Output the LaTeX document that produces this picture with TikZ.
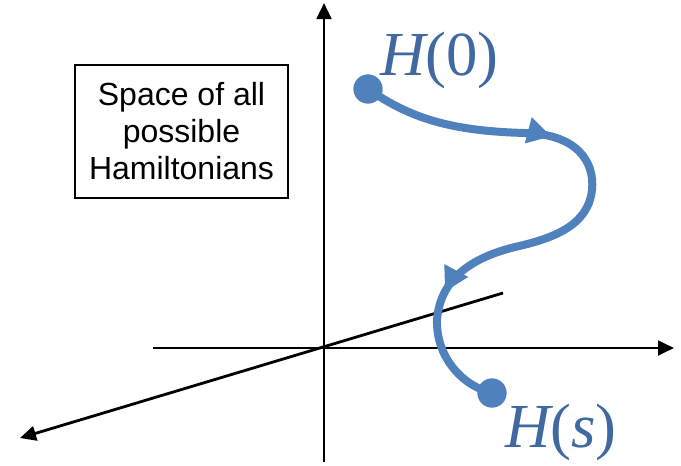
\documentclass[tikz,border=0pt]{standalone}
\usepackage{fontspec}
\setmainfont{Liberation Sans}
\newfontfamily\serifH{Liberation Serif}
\usetikzlibrary{arrows.meta,decorations.markings}
\definecolor{pathblue}{HTML}{4F81BD}
\definecolor{labelblue}{HTML}{3F69A0}
\begin{document}
\begin{tikzpicture}[x=0.75pt,y=-0.75pt,
  axisline/.style={line width=2.1pt,-{Triangle[length=12pt,width=11pt]}},
  plainline/.style={line width=2.1pt},
  infobox/.style={draw,line width=1.5pt,minimum width=160pt,minimum height=100pt,inner sep=0pt,align=center,font=\fontsize{24}{27.75}\selectfont},
  enddot/.style={circle,fill=pathblue,minimum size=22pt,inner sep=0pt},
  hlabel/.style={anchor=base west,inner sep=0pt,text=labelblue,font=\serifH\fontsize{47}{50}\selectfont},
  evo/.style={draw=pathblue,line width=6pt,line cap=round,
    postaction={decorate,decoration={markings,
      mark=at position 0.33 with {\arrow[pathblue]{Triangle[length=18pt,width=19pt]}},
      mark=at position 0.78 with {\arrow[pathblue]{Triangle[length=18pt,width=19pt]}}}}}]
\useasboundingbox (0,0) rectangle (681,465);
\coordinate (ytop) at (324,3);
\coordinate (ybot) at (324,462);
\coordinate (xl) at (153,348);
\coordinate (xr) at (674,348);
\coordinate (zf) at (20,438);
\coordinate (zb) at (503,293);
\draw[plainline] (ybot) -- (324,20);
\draw[axisline] (324,30) -- (ytop);
\draw[axisline] (xl) -- (xr);
\draw[axisline] (zb) -- (zf);
\node[infobox] (box) at (181.5,131.5) {Space of all\\possible\\Hamiltonians};
\node[enddot] (h0) at (368,89) {};
\node[enddot] (hs) at (492,393) {};
\draw[evo] (h0.center) .. controls (410,118) and (450,131) .. (525,133)
  .. controls (575,134) and (595,160) .. (592,190)
  .. controls (588,225) and (555,238) .. (515,247)
  .. controls (470,258) and (440,280) .. (437,320)
  .. controls (436,355) and (460,385) .. (hs.center);
\node[hlabel] (l0) at (380,75) {\itshape H\upshape(0)};
\node[hlabel] (ls) at (505,447) {\itshape H\upshape(\itshape s\upshape)};
\end{tikzpicture}
\end{document}
